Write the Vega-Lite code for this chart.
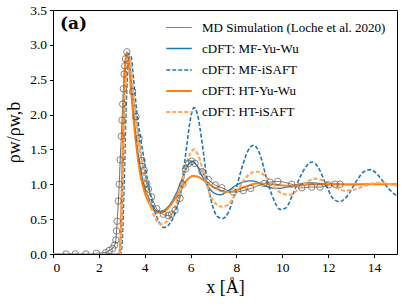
{
  "$schema": "https://vega.github.io/schema/vega-lite/v6.json",
  "width": 344,
  "height": 244,
  "autosize": {"type": "none"},
  "padding": {"left": 53, "top": 10, "right": 10, "bottom": 51},
  "title": {"text": "(a)", "anchor": "start", "frame": "group", "orient": "top", "offset": -30, "dx": 7, "font": "DejaVu Serif", "fontSize": 17, "fontWeight": "bold", "color": "black", "baseline": "top"},
  "config": {
    "font": "Liberation Serif",
    "view": {"stroke": "black", "strokeWidth": 1},
    "axis": {
      "grid": false, "domain": false, "tickColor": "black", "tickSize": 3.5,
      "labelColor": "black", "labelFontSize": 13.5, "labelFont": "Liberation Serif",
      "titleFont": "Liberation Serif", "titleFontWeight": "normal", "titleFontSize": 18, "titleColor": "black"
    }
  },
  "datasets": {
    "curves": [
      {"s":"MD","x":0.57,"y":0},{"s":"MD","x":0.97,"y":0},{"s":"MD","x":1.44,"y":0},{"s":"MD","x":1.89,"y":0.01},{"s":"MD","x":2.3,"y":0.02},{"s":"MD","x":2.45,"y":0.05},{"s":"MD","x":2.6,"y":0.08},{"s":"MD","x":2.69,"y":0.13},{"s":"MD","x":2.74,"y":0.2},{"s":"MD","x":2.77,"y":0.33},{"s":"MD","x":2.8,"y":0.47},{"s":"MD","x":2.85,"y":0.76},{"s":"MD","x":2.89,"y":1.0},{"s":"MD","x":2.93,"y":1.35},{"s":"MD","x":2.98,"y":1.69},{"s":"MD","x":3.01,"y":1.92},{"s":"MD","x":3.04,"y":2.15},{"s":"MD","x":3.07,"y":2.37},{"s":"MD","x":3.1,"y":2.58},{"s":"MD","x":3.13,"y":2.7},{"s":"MD","x":3.16,"y":2.8},{"s":"MD","x":3.22,"y":2.9},{"s":"MD","x":3.47,"y":2.33},{"s":"MD","x":3.62,"y":1.97},{"s":"MD","x":3.75,"y":1.66},{"s":"MD","x":3.88,"y":1.34},{"s":"MD","x":3.98,"y":1.2},{"s":"MD","x":4.09,"y":1.01},{"s":"MD","x":4.16,"y":0.93},{"s":"MD","x":4.3,"y":0.82},{"s":"MD","x":4.52,"y":0.65},{"s":"MD","x":4.81,"y":0.57},{"s":"MD","x":5.03,"y":0.55},{"s":"MD","x":5.17,"y":0.57},{"s":"MD","x":5.32,"y":0.63},{"s":"MD","x":5.54,"y":0.8},{"s":"MD","x":5.66,"y":1.0},{"s":"MD","x":5.78,"y":1.22},{"s":"MD","x":5.92,"y":1.3},{"s":"MD","x":6.05,"y":1.33},{"s":"MD","x":6.19,"y":1.3},{"s":"MD","x":6.5,"y":1.18},{"s":"MD","x":6.77,"y":1.07},{"s":"MD","x":7.07,"y":0.99},{"s":"MD","x":7.36,"y":0.95},{"s":"MD","x":7.86,"y":0.89},{"s":"MD","x":8.3,"y":0.91},{"s":"MD","x":8.62,"y":0.94},{"s":"MD","x":9.2,"y":1.01},{"s":"MD","x":9.46,"y":1.03},{"s":"MD","x":9.8,"y":1.04},{"s":"MD","x":10.41,"y":1.0},{"s":"MD","x":10.85,"y":0.95},{"s":"MD","x":11.28,"y":0.96},{"s":"MD","x":11.64,"y":0.96},{"s":"MD","x":12.01,"y":0.99},{"s":"MD","x":12.3,"y":1.0},{"s":"MD","x":12.52,"y":1.0},

      {"s":"MFYW","x":0,"y":0},{"s":"MFYW","x":2.9,"y":0},{"s":"MFYW","x":2.97,"y":0.3},{"s":"MFYW","x":3.03,"y":1.0},{"s":"MFYW","x":3.08,"y":1.8},{"s":"MFYW","x":3.13,"y":2.5},{"s":"MFYW","x":3.2,"y":2.85},{"s":"MFYW","x":3.27,"y":2.88},{"s":"MFYW","x":3.35,"y":2.7},{"s":"MFYW","x":3.45,"y":2.3},{"s":"MFYW","x":3.6,"y":1.75},{"s":"MFYW","x":3.8,"y":1.25},{"s":"MFYW","x":4.0,"y":0.95},{"s":"MFYW","x":4.2,"y":0.77},{"s":"MFYW","x":4.4,"y":0.66},{"s":"MFYW","x":4.6,"y":0.61},{"s":"MFYW","x":4.8,"y":0.62},{"s":"MFYW","x":5.0,"y":0.67},{"s":"MFYW","x":5.3,"y":0.82},{"s":"MFYW","x":5.6,"y":1.05},{"s":"MFYW","x":5.85,"y":1.25},{"s":"MFYW","x":6.05,"y":1.33},{"s":"MFYW","x":6.25,"y":1.28},{"s":"MFYW","x":6.5,"y":1.12},{"s":"MFYW","x":6.8,"y":0.95},{"s":"MFYW","x":7.05,"y":0.87},{"s":"MFYW","x":7.3,"y":0.85},{"s":"MFYW","x":7.6,"y":0.9},{"s":"MFYW","x":8.0,"y":0.99},{"s":"MFYW","x":8.4,"y":1.04},{"s":"MFYW","x":8.6,"y":1.05},{"s":"MFYW","x":9.0,"y":1.02},{"s":"MFYW","x":9.4,"y":0.96},{"s":"MFYW","x":9.8,"y":0.94},{"s":"MFYW","x":10.2,"y":0.96},{"s":"MFYW","x":10.7,"y":1.0},{"s":"MFYW","x":11.2,"y":1.02},{"s":"MFYW","x":11.7,"y":1.01},{"s":"MFYW","x":12.2,"y":1.0},{"s":"MFYW","x":13.0,"y":0.995},{"s":"MFYW","x":14.0,"y":1.0},{"s":"MFYW","x":15.0,"y":1.0},

      {"s":"MFiS","x":0,"y":0},{"s":"MFiS","x":2.95,"y":0},{"s":"MFiS","x":3.02,"y":0.2},{"s":"MFiS","x":3.1,"y":1.0},{"s":"MFiS","x":3.18,"y":2.0},{"s":"MFiS","x":3.25,"y":2.6},{"s":"MFiS","x":3.33,"y":2.86},{"s":"MFiS","x":3.4,"y":2.84},{"s":"MFiS","x":3.5,"y":2.55},{"s":"MFiS","x":3.65,"y":2.05},{"s":"MFiS","x":3.8,"y":1.7},{"s":"MFiS","x":3.95,"y":1.4},{"s":"MFiS","x":4.1,"y":1.1},{"s":"MFiS","x":4.3,"y":0.78},{"s":"MFiS","x":4.5,"y":0.55},{"s":"MFiS","x":4.7,"y":0.42},{"s":"MFiS","x":4.85,"y":0.38},{"s":"MFiS","x":5.05,"y":0.42},{"s":"MFiS","x":5.35,"y":0.62},{"s":"MFiS","x":5.65,"y":1.1},{"s":"MFiS","x":5.85,"y":1.6},{"s":"MFiS","x":6.0,"y":1.95},{"s":"MFiS","x":6.15,"y":2.1},{"s":"MFiS","x":6.3,"y":2.0},{"s":"MFiS","x":6.5,"y":1.6},{"s":"MFiS","x":6.7,"y":1.1},{"s":"MFiS","x":6.95,"y":0.7},{"s":"MFiS","x":7.2,"y":0.53},{"s":"MFiS","x":7.4,"y":0.51},{"s":"MFiS","x":7.65,"y":0.6},{"s":"MFiS","x":7.95,"y":0.9},{"s":"MFiS","x":8.25,"y":1.25},{"s":"MFiS","x":8.5,"y":1.48},{"s":"MFiS","x":8.75,"y":1.56},{"s":"MFiS","x":9.0,"y":1.45},{"s":"MFiS","x":9.3,"y":1.1},{"s":"MFiS","x":9.6,"y":0.8},{"s":"MFiS","x":9.9,"y":0.64},{"s":"MFiS","x":10.15,"y":0.66},{"s":"MFiS","x":10.45,"y":0.85},{"s":"MFiS","x":10.8,"y":1.12},{"s":"MFiS","x":11.1,"y":1.28},{"s":"MFiS","x":11.3,"y":1.32},{"s":"MFiS","x":11.55,"y":1.25},{"s":"MFiS","x":11.9,"y":1.0},{"s":"MFiS","x":12.2,"y":0.8},{"s":"MFiS","x":12.5,"y":0.75},{"s":"MFiS","x":12.8,"y":0.82},{"s":"MFiS","x":13.2,"y":1.03},{"s":"MFiS","x":13.55,"y":1.18},{"s":"MFiS","x":13.85,"y":1.21},{"s":"MFiS","x":14.2,"y":1.12},{"s":"MFiS","x":14.6,"y":0.95},{"s":"MFiS","x":15.0,"y":0.83},

      {"s":"HTYW","x":0,"y":0},{"s":"HTYW","x":2.88,"y":0},{"s":"HTYW","x":2.95,"y":0.3},{"s":"HTYW","x":3.0,"y":1.0},{"s":"HTYW","x":3.05,"y":1.7},{"s":"HTYW","x":3.1,"y":2.4},{"s":"HTYW","x":3.17,"y":2.8},{"s":"HTYW","x":3.23,"y":2.88},{"s":"HTYW","x":3.3,"y":2.75},{"s":"HTYW","x":3.4,"y":2.35},{"s":"HTYW","x":3.55,"y":1.8},{"s":"HTYW","x":3.75,"y":1.25},{"s":"HTYW","x":4.0,"y":0.88},{"s":"HTYW","x":4.2,"y":0.72},{"s":"HTYW","x":4.4,"y":0.63},{"s":"HTYW","x":4.6,"y":0.59},{"s":"HTYW","x":4.8,"y":0.6},{"s":"HTYW","x":5.0,"y":0.65},{"s":"HTYW","x":5.3,"y":0.78},{"s":"HTYW","x":5.6,"y":0.95},{"s":"HTYW","x":5.9,"y":1.08},{"s":"HTYW","x":6.1,"y":1.12},{"s":"HTYW","x":6.3,"y":1.11},{"s":"HTYW","x":6.6,"y":1.05},{"s":"HTYW","x":7.0,"y":0.96},{"s":"HTYW","x":7.4,"y":0.9},{"s":"HTYW","x":7.7,"y":0.89},{"s":"HTYW","x":8.1,"y":0.93},{"s":"HTYW","x":8.5,"y":0.98},{"s":"HTYW","x":8.9,"y":1.01},{"s":"HTYW","x":9.3,"y":1.01},{"s":"HTYW","x":9.8,"y":0.99},{"s":"HTYW","x":10.3,"y":0.98},{"s":"HTYW","x":10.8,"y":0.99},{"s":"HTYW","x":11.5,"y":1.0},{"s":"HTYW","x":12.5,"y":1.0},{"s":"HTYW","x":15.0,"y":1.0},

      {"s":"HTiS","x":0,"y":0},{"s":"HTiS","x":2.92,"y":0},{"s":"HTiS","x":2.98,"y":0.3},{"s":"HTiS","x":3.05,"y":1.1},{"s":"HTiS","x":3.12,"y":2.0},{"s":"HTiS","x":3.2,"y":2.6},{"s":"HTiS","x":3.28,"y":2.85},{"s":"HTiS","x":3.36,"y":2.8},{"s":"HTiS","x":3.45,"y":2.5},{"s":"HTiS","x":3.6,"y":1.95},{"s":"HTiS","x":3.8,"y":1.45},{"s":"HTiS","x":4.0,"y":1.05},{"s":"HTiS","x":4.2,"y":0.75},{"s":"HTiS","x":4.45,"y":0.52},{"s":"HTiS","x":4.7,"y":0.43},{"s":"HTiS","x":4.9,"y":0.45},{"s":"HTiS","x":5.15,"y":0.55},{"s":"HTiS","x":5.45,"y":0.8},{"s":"HTiS","x":5.75,"y":1.2},{"s":"HTiS","x":6.0,"y":1.45},{"s":"HTiS","x":6.15,"y":1.5},{"s":"HTiS","x":6.35,"y":1.4},{"s":"HTiS","x":6.6,"y":1.12},{"s":"HTiS","x":6.85,"y":0.85},{"s":"HTiS","x":7.1,"y":0.72},{"s":"HTiS","x":7.35,"y":0.68},{"s":"HTiS","x":7.6,"y":0.7},{"s":"HTiS","x":7.95,"y":0.85},{"s":"HTiS","x":8.35,"y":1.07},{"s":"HTiS","x":8.7,"y":1.17},{"s":"HTiS","x":8.95,"y":1.18},{"s":"HTiS","x":9.3,"y":1.1},{"s":"HTiS","x":9.7,"y":0.94},{"s":"HTiS","x":10.05,"y":0.86},{"s":"HTiS","x":10.35,"y":0.85},{"s":"HTiS","x":10.7,"y":0.93},{"s":"HTiS","x":11.1,"y":1.04},{"s":"HTiS","x":11.45,"y":1.08},{"s":"HTiS","x":11.8,"y":1.05},{"s":"HTiS","x":12.3,"y":0.96},{"s":"HTiS","x":12.7,"y":0.91},{"s":"HTiS","x":13.1,"y":0.92},{"s":"HTiS","x":13.6,"y":0.98},{"s":"HTiS","x":14.1,"y":1.02},{"s":"HTiS","x":14.4,"y":1.02},{"s":"HTiS","x":14.8,"y":0.99},{"s":"HTiS","x":15.0,"y":0.98}
    ]
  },
  "data": {"name": "curves"},
  "encoding": {
    "x": {"field": "x", "type": "quantitative", "scale": {"domain": [0, 15], "nice": false, "zero": false},
          "axis": {"values": [0, 2, 4, 6, 8, 10, 12, 14], "title": "x [Å]", "titlePadding": 4, "labelPadding": 3,
                   "labelFont": "Liberation Serif", "labelFontSize": 13.5, "titleFont": "Liberation Serif"}},
    "y": {"field": "y", "type": "quantitative", "scale": {"domain": [0, 3.5], "nice": false},
          "axis": {"values": [0, 0.5, 1, 1.5, 2, 2.5, 3, 3.5], "format": ".1f", "title": "ρw/ρw,b", "titlePadding": 6, "labelPadding": 3,
                   "labelFont": "Liberation Serif", "labelFontSize": 13.5, "titleFont": "Liberation Serif"}}
  },
  "layer": [
    {
      "mark": {"type": "line", "interpolate": "monotone", "clip": true},
      "encoding": {
        "color": {"field": "s", "type": "nominal",
          "scale": {"domain": ["MD", "MFYW", "MFiS", "HTYW", "HTiS"], "range": ["#666666", "#1f77b4", "#1f77b4", "#ff7f0e", "#ffa95e"]},
          "legend": {"title": null, "orient": "none", "legendX": 112, "legendY": 4, "symbolType": "stroke", "symbolSize": 650,
                     "labelFontSize": 13, "labelFont": "Liberation Serif", "labelColor": "black", "labelLimit": 300, "labelOffset": 9, "rowPadding": -8,
                     "labelExpr": "datum.value == 'MD' ? 'MD Simulation (Loche et al. 2020)' : datum.value == 'MFYW' ? 'cDFT: MF-Yu-Wu' : datum.value == 'MFiS' ? 'cDFT: MF-iSAFT' : datum.value == 'HTYW' ? 'cDFT: HT-Yu-Wu' : 'cDFT: HT-iSAFT'"}},
        "strokeDash": {"field": "s", "type": "nominal",
          "scale": {"domain": ["MD", "MFYW", "MFiS", "HTYW", "HTiS"], "range": [[1, 0], [1, 0], [4, 2], [1, 0], [4, 2]]},
          "legend": {"title": null, "orient": "none", "legendX": 112, "legendY": 4, "symbolType": "stroke", "symbolSize": 650,
                     "labelFontSize": 13, "labelFont": "Liberation Serif", "labelColor": "black", "labelLimit": 300, "labelOffset": 9, "rowPadding": -8,
                     "labelExpr": "datum.value == 'MD' ? 'MD Simulation (Loche et al. 2020)' : datum.value == 'MFYW' ? 'cDFT: MF-Yu-Wu' : datum.value == 'MFiS' ? 'cDFT: MF-iSAFT' : datum.value == 'HTYW' ? 'cDFT: HT-Yu-Wu' : 'cDFT: HT-iSAFT'"}},
        "strokeWidth": {"field": "s", "type": "nominal",
          "scale": {"domain": ["MD", "MFYW", "MFiS", "HTYW", "HTiS"], "range": [1, 2.2, 1.1, 2.2, 1.1]},
          "legend": {"title": null, "orient": "none", "legendX": 112, "legendY": 4, "symbolType": "stroke", "symbolSize": 650,
                     "labelFontSize": 13, "labelFont": "Liberation Serif", "labelColor": "black", "labelLimit": 300, "labelOffset": 9, "rowPadding": -8,
                     "labelExpr": "datum.value == 'MD' ? 'MD Simulation (Loche et al. 2020)' : datum.value == 'MFYW' ? 'cDFT: MF-Yu-Wu' : datum.value == 'MFiS' ? 'cDFT: MF-iSAFT' : datum.value == 'HTYW' ? 'cDFT: HT-Yu-Wu' : 'cDFT: HT-iSAFT'"}}
      }
    },
    {
      "transform": [{"filter": "datum.s == 'MD'"}],
      "mark": {"type": "point", "shape": "circle", "filled": false, "size": 42, "stroke": "#555555", "strokeWidth": 1, "clip": true}
    }
  ]
}
